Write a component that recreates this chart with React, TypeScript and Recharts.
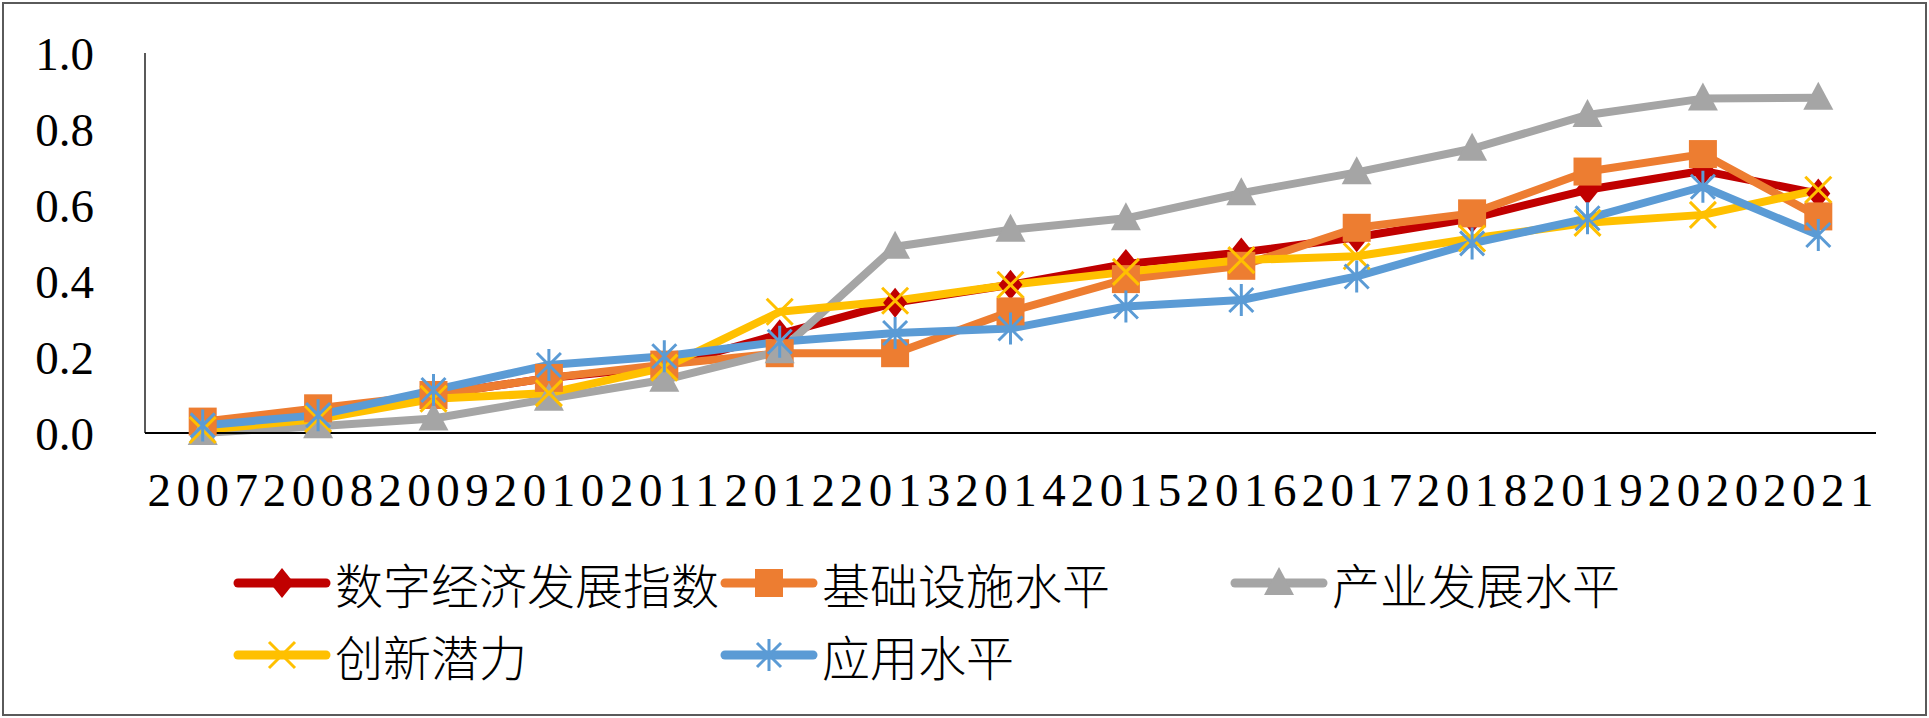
import { LineChart, Line, XAxis, YAxis, Legend } from 'recharts'

const years = ['2007', '2008', '2009', '2010', '2011', '2012', '2013', '2014', '2015', '2016', '2017', '2018', '2019', '2020', '2021']

const digitalIndex = [0.02, 0.05, 0.1, 0.145, 0.175, 0.26, 0.343, 0.39, 0.445, 0.475, 0.515, 0.565, 0.64, 0.69, 0.63]
const infrastructure = [0.03, 0.065, 0.1, 0.145, 0.18, 0.21, 0.21, 0.32, 0.405, 0.44, 0.54, 0.578, 0.688, 0.734, 0.57]
const industry = [0.0, 0.018, 0.038, 0.09, 0.14, 0.215, 0.49, 0.535, 0.565, 0.631, 0.686, 0.748, 0.837, 0.88, 0.882]
const innovation = [0.008, 0.037, 0.09, 0.105, 0.172, 0.319, 0.348, 0.39, 0.424, 0.455, 0.465, 0.512, 0.553, 0.574, 0.64]
const application = [0.02, 0.047, 0.113, 0.179, 0.202, 0.24, 0.263, 0.275, 0.333, 0.35, 0.412, 0.499, 0.565, 0.648, 0.521]

const yTicks = [0, 0.2, 0.4, 0.6, 0.8, 1.0]

const series = [
  { key: 'digital', name: '数字经济发展指数', color: '#C00000', marker: 'diamond' },
  { key: 'infra', name: '基础设施水平', color: '#ED7D31', marker: 'square' },
  { key: 'industry', name: '产业发展水平', color: '#A5A5A5', marker: 'triangle' },
  { key: 'innovation', name: '创新潜力', color: '#FFC000', marker: 'x' },
  { key: 'application', name: '应用水平', color: '#5B9BD5', marker: 'star' },
]

const data = years.map((year, i) => ({
  year,
  digital: digitalIndex[i],
  infra: infrastructure[i],
  industry: industry[i],
  innovation: innovation[i],
  application: application[i],
}))

function Marker({ type, cx, cy, color }: { type: string; cx: number; cy: number; color: string }) {
  if (type === 'diamond') {
    return <path d={`M${cx},${cy - 15} L${cx + 12},${cy} L${cx},${cy + 15} L${cx - 12},${cy} Z`} fill={color} />
  }
  if (type === 'square') {
    return <rect x={cx - 14} y={cy - 14} width={28} height={28} fill={color} />
  }
  if (type === 'triangle') {
    return <path d={`M${cx},${cy - 16} L${cx + 15},${cy + 12} L${cx - 15},${cy + 12} Z`} fill={color} />
  }
  if (type === 'x') {
    return (
      <path
        d={`M${cx - 13},${cy - 13} L${cx + 13},${cy + 13} M${cx + 13},${cy - 13} L${cx - 13},${cy + 13}`}
        stroke={color}
        strokeWidth={3}
        fill="none"
      />
    )
  }
  return (
    <path
      d={`M${cx - 12},${cy - 12} L${cx + 12},${cy + 12} M${cx + 12},${cy - 12} L${cx - 12},${cy + 12} M${cx},${cy - 16} L${cx},${cy + 16}`}
      stroke={color}
      strokeWidth={3}
      fill="none"
    />
  )
}

// legend slots in page coordinates (sample start x, row center y)
const legendSlots = [
  { x: 233, y: 583 },
  { x: 720, y: 583 },
  { x: 1230, y: 583 },
  { x: 233, y: 655 },
  { x: 720, y: 655 },
]

function renderLegend() {
  return (
    <div style={{ position: 'relative', width: 1929, height: 718 }}>
      {series.map((s, i) => (
        <div
          key={s.key}
          style={{
            position: 'absolute',
            left: legendSlots[i].x,
            top: legendSlots[i].y - 30,
            height: 60,
            display: 'flex',
            alignItems: 'center',
            whiteSpace: 'nowrap',
          }}
        >
          <svg width={100} height={40} style={{ display: 'block' }}>
            <line x1={5} y1={20} x2={93} y2={20} stroke={s.color} strokeWidth={9} strokeLinecap="round" />
            <Marker type={s.marker} cx={49} cy={20} color={s.color} />
          </svg>
          <span
            style={{
              fontFamily: '"Noto Sans CJK SC", sans-serif',
              fontSize: 48,
              lineHeight: 1,
              color: '#000',
              marginLeft: 2,
              fontWeight: 300,
            }}
          >
            {s.name}
          </span>
        </div>
      ))}
    </div>
  )
}

function YearTick({ x, y, payload }: any) {
  return (
    <text
      x={x + 2.75}
      y={y}
      dy="0.71em"
      textAnchor="middle"
      fontSize={47}
      fontFamily='"Liberation Serif", "Times New Roman", serif'
      letterSpacing={5.5}
      fill="#000"
    >
      {payload.value}
    </text>
  )
}

export default function App() {
  return (
    <div style={{ position: 'absolute', left: 0, top: 0, width: 1929, height: 718, background: '#fff' }}>
      <LineChart
        width={1929}
        height={718}
        data={data}
        margin={{ top: 53, right: 53, left: 0, bottom: 185 }}
      >
        <XAxis
          dataKey="year"
          scale="band"
          interval={0}
          height={100}
          tickSize={0}
          tickMargin={40}
          tickLine={false}
          axisLine={{ stroke: '#000', strokeWidth: 2 }}
          tick={<YearTick />}
        />
        <YAxis
          domain={[0, 1]}
          ticks={yTicks}
          width={145}
          tickSize={0}
          tickMargin={51}
          tickLine={false}
          axisLine={{ stroke: '#000', strokeWidth: 1.3 }}
          tickFormatter={(v: number) => v.toFixed(1)}
          tick={{ fontSize: 47, fill: '#000', fontFamily: '"Liberation Serif", "Times New Roman", serif' }}
        />
        <Legend
          verticalAlign="middle"
          align="center"
          layout="horizontal"
          content={renderLegend}
          wrapperStyle={{ left: 0, top: 0, width: 1929, height: 718, pointerEvents: 'none' }}
        />
        {series.map((s) => (
          <Line
            key={s.key}
            type="linear"
            dataKey={s.key}
            name={s.name}
            stroke={s.color}
            strokeWidth={8}
            strokeLinejoin="round"
            isAnimationActive={false}
            dot={(p: any) => <Marker key={`${s.key}-${p.index}`} type={s.marker} cx={p.cx} cy={p.cy} color={s.color} />}
            activeDot={false}
          />
        ))}
      </LineChart>
      <div
        style={{
          position: 'absolute',
          left: 2,
          top: 2,
          width: 1925,
          height: 714,
          boxSizing: 'border-box',
          border: '2px solid #5a5a5a',
          pointerEvents: 'none',
        }}
      />
    </div>
  )
}
